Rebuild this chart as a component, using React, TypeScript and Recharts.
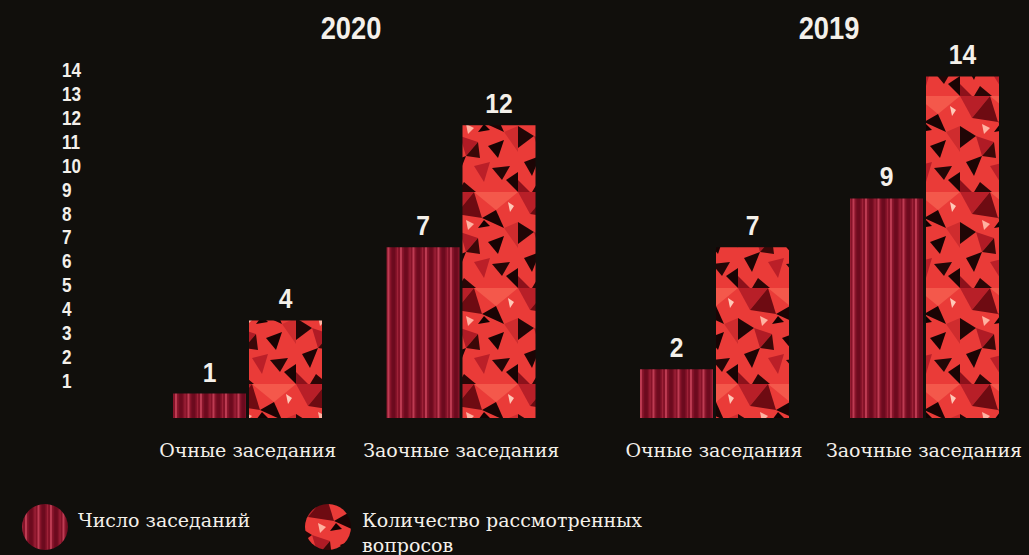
import { Bar, BarChart, LabelList, XAxis, YAxis } from "recharts";

const categories = ["Очные заседания", "Заочные заседания"];
const years = ["2020", "2019"];
const meetings2020 = [1, 7];
const questions2020 = [4, 12];
const meetings2019 = [2, 9];
const questions2019 = [7, 14];
const scaleTicks = [1, 2, 3, 4, 5, 6, 7, 8, 9, 10, 11, 12, 13, 14];
const seriesNames = ["Число заседаний", "Количество рассмотренных вопросов"];

const BG = "#110f0c";
const TEXT = "#f4f0ea";
// no condensed face is installed, so the bold sans is squeezed horizontally
const NUM_FONT = "'Liberation Sans', Arial, sans-serif";
const SQUEEZE = 0.88;
const SERIF = "'DejaVu Serif', serif";

const buildRows = (meetings: number[], questions: number[]) =>
  categories.map((name, i) => ({ name, meetings: meetings[i], questions: questions[i] }));

// decorative fills: vertical pinstripes and a faceted "ruby" texture
function Patterns({ prefix }: { prefix: string }) {
  return (
    <defs>
      <pattern id={`${prefix}-stripes`} width={12.5} height={10} patternUnits="userSpaceOnUse">
        <rect width={12.5} height={10} fill="#851228" />
        <rect x={0} width={2} height={10} fill="#bd3b52" />
        <rect x={4} width={4} height={10} fill="#6c0a1e" />
        <rect x={9.5} width={1} height={10} fill="#a2243b" />
      </pattern>
      <pattern id={`${prefix}-ruby`} width={74} height={96} patternUnits="userSpaceOnUse">
        <rect width={74} height={96} fill="#ea3b38" />
        <polygon points="0,0 30,0 12,22" fill="#b81f28" />
        <polygon points="30,0 74,0 52,18" fill="#f4584b" />
        <polygon points="12,22 30,0 38,26" fill="#6e0b12" />
        <polygon points="38,26 52,18 60,36" fill="#1a0404" />
        <polygon points="40,28 46,34 34,36" fill="#120202" />
        <polygon points="0,30 16,40 0,52" fill="#200606" />
        <polygon points="16,40 34,46 22,60" fill="#b01b25" />
        <polygon points="22,60 34,46 36,62" fill="#3a0808" />
        <polygon points="44,50 60,44 54,62" fill="#170303" />
        <polygon points="60,36 74,30 74,56" fill="#cf2c2e" />
        <polygon points="6,66 22,60 14,80" fill="#1c0505" />
        <polygon points="30,70 46,66 40,86" fill="#bb1f28" />
        <polygon points="48,72 66,70 58,84" fill="#220707" />
        <polygon points="62,84 74,76 74,96" fill="#190404" />
        <polygon points="0,84 12,96 0,96" fill="#8d111b" />
        <polygon points="20,86 32,96 14,96" fill="#2a0606" />
        <polygon points="22,28 30,32 24,38" fill="#ffb3a2" />
        <polygon points="64,10 70,14 66,20" fill="#ffc9b8" />
      </pattern>
    </defs>
  );
}

function ValueLabel(props: any) {
  const { x, y, width, value } = props;
  return (
    <text
      transform={`translate(${x + width / 2},${y - 12}) scale(${SQUEEZE},1)`}
      textAnchor="middle"
      fill={TEXT}
      fontFamily={NUM_FONT}
      fontWeight={700}
      fontSize={28}
    >
      {value}
    </text>
  );
}

function CategoryTick(props: any) {
  const { x, payload } = props;
  return (
    <text x={x} y={457} textAnchor="middle" fill={TEXT} fontFamily={SERIF} fontSize={19}>
      {payload.value}
    </text>
  );
}

function ScaleTick(props: any) {
  const { y, payload } = props;
  return (
    <text
      transform={`translate(62,${y}) scale(${SQUEEZE},1)`}
      dy="0.36em"
      textAnchor="start"
      fill={TEXT}
      fontFamily={NUM_FONT}
      fontWeight={700}
      fontSize={19.5}
    >
      {payload.value}
    </text>
  );
}

function YearPanel({
  data,
  prefix,
  width,
  marginLeft,
  showScale,
}: {
  data: { name: string; meetings: number; questions: number }[];
  prefix: string;
  width: number;
  marginLeft: number;
  showScale: boolean;
}) {
  return (
    <BarChart
      width={width}
      height={555}
      data={data}
      margin={{ top: 52, right: 0, bottom: 0, left: showScale ? 0 : marginLeft }}
      barSize={73}
      barGap={3}
    >
      <Patterns prefix={prefix} />
      <XAxis
        dataKey="name"
        height={137}
        axisLine={false}
        tickLine={false}
        interval={0}
        tick={<CategoryTick />}
      />
      <YAxis yAxisId="v" domain={[0, 15]} hide />
      {showScale && (
        <YAxis
          yAxisId="scale"
          type="number"
          domain={[-0.548, 14.75]}
          ticks={scaleTicks}
          allowDataOverflow
          width={marginLeft}
          axisLine={false}
          tickLine={false}
          interval={0}
          tick={<ScaleTick />}
        />
      )}
      <Bar yAxisId="v" dataKey="meetings" name={seriesNames[0]} fill={`url(#${prefix}-stripes)`} isAnimationActive={false}>
        <LabelList dataKey="meetings" content={<ValueLabel />} />
      </Bar>
      <Bar yAxisId="v" dataKey="questions" name={seriesNames[1]} fill={`url(#${prefix}-ruby)`} isAnimationActive={false}>
        <LabelList dataKey="questions" content={<ValueLabel />} />
      </Bar>
    </BarChart>
  );
}

export default function App() {
  const yearStyle: React.CSSProperties = {
    position: "absolute",
    top: 11,
    color: TEXT,
    fontFamily: NUM_FONT,
    fontWeight: 700,
    fontSize: 31,
    width: 120,
    textAlign: "center",
    transform: `scaleX(${SQUEEZE})`,
  };
  const legendText: React.CSSProperties = {
    position: "absolute",
    color: TEXT,
    fontFamily: SERIF,
    fontSize: 19,
    lineHeight: "25px",
  };
  return (
    <div
      style={{
        position: "absolute",
        left: 0,
        top: 0,
        width: 1029,
        height: 555,
        background: BG,
        overflow: "hidden",
      }}
    >
      <div style={{ ...yearStyle, left: 291 }}>{years[0]}</div>
      <div style={{ ...yearStyle, left: 769 }}>{years[1]}</div>

      <div style={{ position: "absolute", left: 0, top: 0 }}>
        <YearPanel data={buildRows(meetings2020, questions2020)} prefix="y20" width={568} marginLeft={141} showScale />
      </div>
      <div style={{ position: "absolute", left: 590, top: 0 }}>
        <YearPanel data={buildRows(meetings2019, questions2019)} prefix="y19" width={439} marginLeft={19} showScale={false} />
      </div>

      <svg width={1029} height={60} style={{ position: "absolute", left: 0, top: 495 }}>
        <Patterns prefix="lg" />
        <circle cx={45} cy={32} r={23} fill="url(#lg-stripes)" />
        <circle cx={328} cy={32} r={23} fill="url(#lg-ruby)" />
      </svg>
      <div style={{ ...legendText, left: 78, top: 508 }}>{seriesNames[0]}</div>
      <div style={{ ...legendText, left: 362, top: 508, width: 300 }}>{seriesNames[1]}</div>
    </div>
  );
}
